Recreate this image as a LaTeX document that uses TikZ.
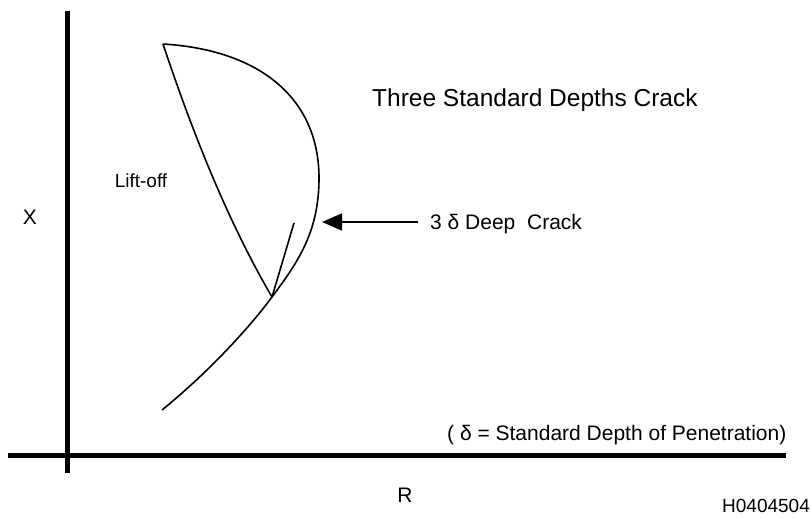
\documentclass[tikz,border=0pt]{standalone}
\usepackage{fontspec}
\setmainfont{Liberation Sans}
\usetikzlibrary{arrows.meta,positioning}

\begin{document}
\begin{tikzpicture}[x=1pt,y=-1pt,
        axis/.style={line width=5pt},
        curve/.style={line width=1.6pt, line join=round},
        arrow/.style={-{Triangle[length=20pt,width=17pt]}, line width=1.6pt},
        label/.style={font=\fontsize{21}{24}\selectfont, inner sep=0pt},
        title/.style={font=\fontsize{24.5}{28}\selectfont, inner sep=0pt},
        small/.style={font=\fontsize{19}{22}\selectfont, inner sep=0pt},
      ]
      \useasboundingbox (0,0) rectangle (811,517);
      % axes
      \coordinate (xtop) at (67,11);
      \coordinate (xbot) at (67,473);
      \coordinate (rleft) at (8,455);
      \coordinate (rright) at (786,455);
      \draw [axis] (xtop) -- (xbot);
      \draw [axis] (rleft) -- (rright);
      % lift-off curve
      \coordinate (top) at (163,44);
      \coordinate (bulge) at (319,178);
      \coordinate (cusp) at (272,297);
      \coordinate (low) at (162,410);
      \coordinate (crackend) at (294,223);
      \draw [curve] (top) .. controls (262,50) and (319,100) .. (bulge)
                          .. controls (319,232) and (298,262) .. (cusp)
                          .. controls (246,332) and (205,375) .. (low);
      \draw [curve] (top) .. controls (195,140) and (230,225) .. (cusp);
      \draw [curve] (cusp) -- (crackend);
      % labels
      \node [title, anchor=west] (ttl) at (372,100) {Three Standard Depths Crack};
      \node [label, anchor=west] (deep) at (430,224) {3 δ Deep\ \ Crack};
      \node [small] (lift) at (141,181) {Lift-off};
      \node [label] (xlab) at (30,217) {X};
      \node [label] (rlab) at (405,495) {R};
      \node [small] (fig) at (766,506) {H0404504};
      \node [label, anchor=west] (note) at (447,435) {( δ = Standard Depth of Penetration)};
      \coordinate (tip) at (322,222);
      \draw [arrow] (deep.west) ++(-12,-2) -- (tip);
\end{tikzpicture}
\end{document}
